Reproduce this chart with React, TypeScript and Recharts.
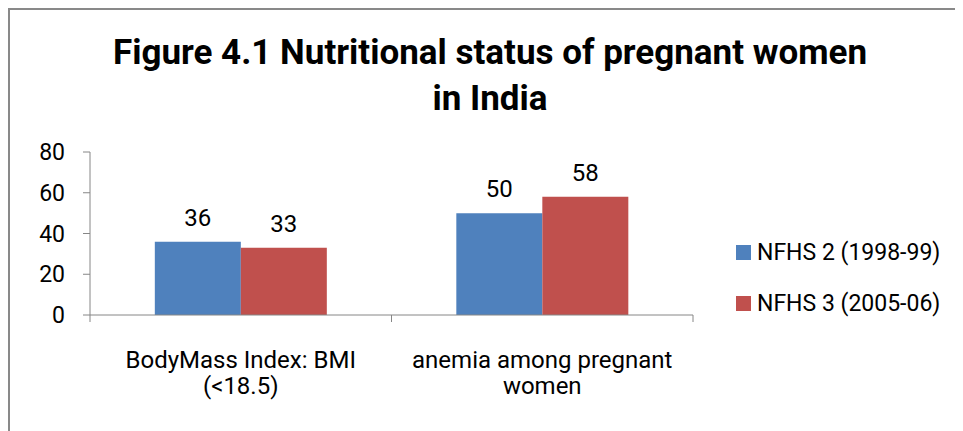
import { BarChart, Bar, XAxis, YAxis, Legend, LabelList } from "recharts";

const categories = ["BodyMass Index: BMI (<18.5)", "anemia among pregnant women"];
const categoryLines = [
  ["BodyMass Index: BMI", "(<18.5)"],
  ["anemia among pregnant", "women"],
];
const nfhs2 = [36, 50];
const nfhs3 = [33, 58];
const yTicks = [0, 20, 40, 60, 80];

const series = [
  { key: "nfhs2", name: "NFHS 2 (1998-99)", color: "#4F81BD" },
  { key: "nfhs3", name: "NFHS 3 (2005-06)", color: "#C0504D" },
];

const rows = categories.map((c, i) => ({ name: c, nfhs2: nfhs2[i], nfhs3: nfhs3[i] }));

const FONT = "Roboto, 'Liberation Sans', Arial, sans-serif";
const AXIS = "#868686";

function CategoryTick(props: any) {
  const { x, y, payload, index, width, visibleTicksCount } = props;
  const half = payload?.offset || width / visibleTicksCount / 2;
  const axisY = y - 7;
  const lines = categoryLines[index] || [payload.value];
  return (
    <g>
      <line x1={x - half} y1={axisY} x2={x - half} y2={axisY + 7} stroke={AXIS} />
      {index === visibleTicksCount - 1 && (
        <line x1={x + half} y1={axisY} x2={x + half} y2={axisY + 7} stroke={AXIS} />
      )}
      <text x={x} y={y} textAnchor="middle" fill="#000" fontSize={24} fontFamily={FONT}>
        {lines.map((l: string, i: number) => (
          <tspan key={i} x={x} dy={i === 0 ? 46 : 26}>
            {l}
          </tspan>
        ))}
      </text>
    </g>
  );
}

function LegendBox(props: any) {
  const { payload } = props;
  return (
    <div style={{ fontFamily: FONT, fontSize: 23, color: "#000" }}>
      {(payload || []).map((p: any) => (
        <div key={p.value} style={{ height: 51, display: "flex", alignItems: "center" }}>
          <span style={{ width: 15, height: 15, background: p.color, display: "inline-block", marginRight: 6 }} />
          <span>{p.value}</span>
        </div>
      ))}
    </div>
  );
}

export default function App() {
  return (
    <div
      style={{
        width: 953,
        height: 421,
        borderTop: "2px solid #898989",
        borderLeft: "2px solid #898989",
        position: "relative",
        overflow: "hidden",
        background: "#fff",
      }}
    >
      <div
        style={{
          position: "absolute",
          left: 0,
          top: 20,
          width: 960,
          textAlign: "center",
          fontFamily: FONT,
          fontWeight: 700,
          fontSize: 35,
          lineHeight: "46px",
          color: "#000",
        }}
      >
        Figure 4.1 Nutritional status of pregnant women
        <br />
        in India
      </div>
      <div style={{ position: "absolute", left: 0, top: 0 }}>
        <BarChart
          width={953}
          height={421}
          data={rows}
          margin={{ top: 142, right: 270, bottom: 36, left: 20 }}
          barCategoryGap="21.5%"
          barGap={0}
        >
          <XAxis
            dataKey="name"
            height={80}
            stroke={AXIS}
            tickLine={false}
            tickSize={7}
            tickMargin={0}
            interval={0}
            tick={<CategoryTick />}
          />
          <YAxis
            width={60}
            domain={[0, 80]}
            ticks={yTicks}
            stroke={AXIS}
            tickSize={7}
            tickMargin={18}
            tick={{ fill: "#000", fontSize: 23, fontFamily: FONT }}
          />
          <Legend
            layout="vertical"
            align="center"
            verticalAlign="middle"
            wrapperStyle={{ left: 726, top: 217, width: 230 }}
            content={<LegendBox />}
          />
          {series.map((s) => (
            <Bar key={s.key} dataKey={s.key} name={s.name} fill={s.color} isAnimationActive={false}>
              <LabelList
                dataKey={s.key}
                position="top"
                offset={16}
                fill="#000"
                fontSize={24}
                fontFamily={FONT}
              />
            </Bar>
          ))}
        </BarChart>
      </div>
    </div>
  );
}
